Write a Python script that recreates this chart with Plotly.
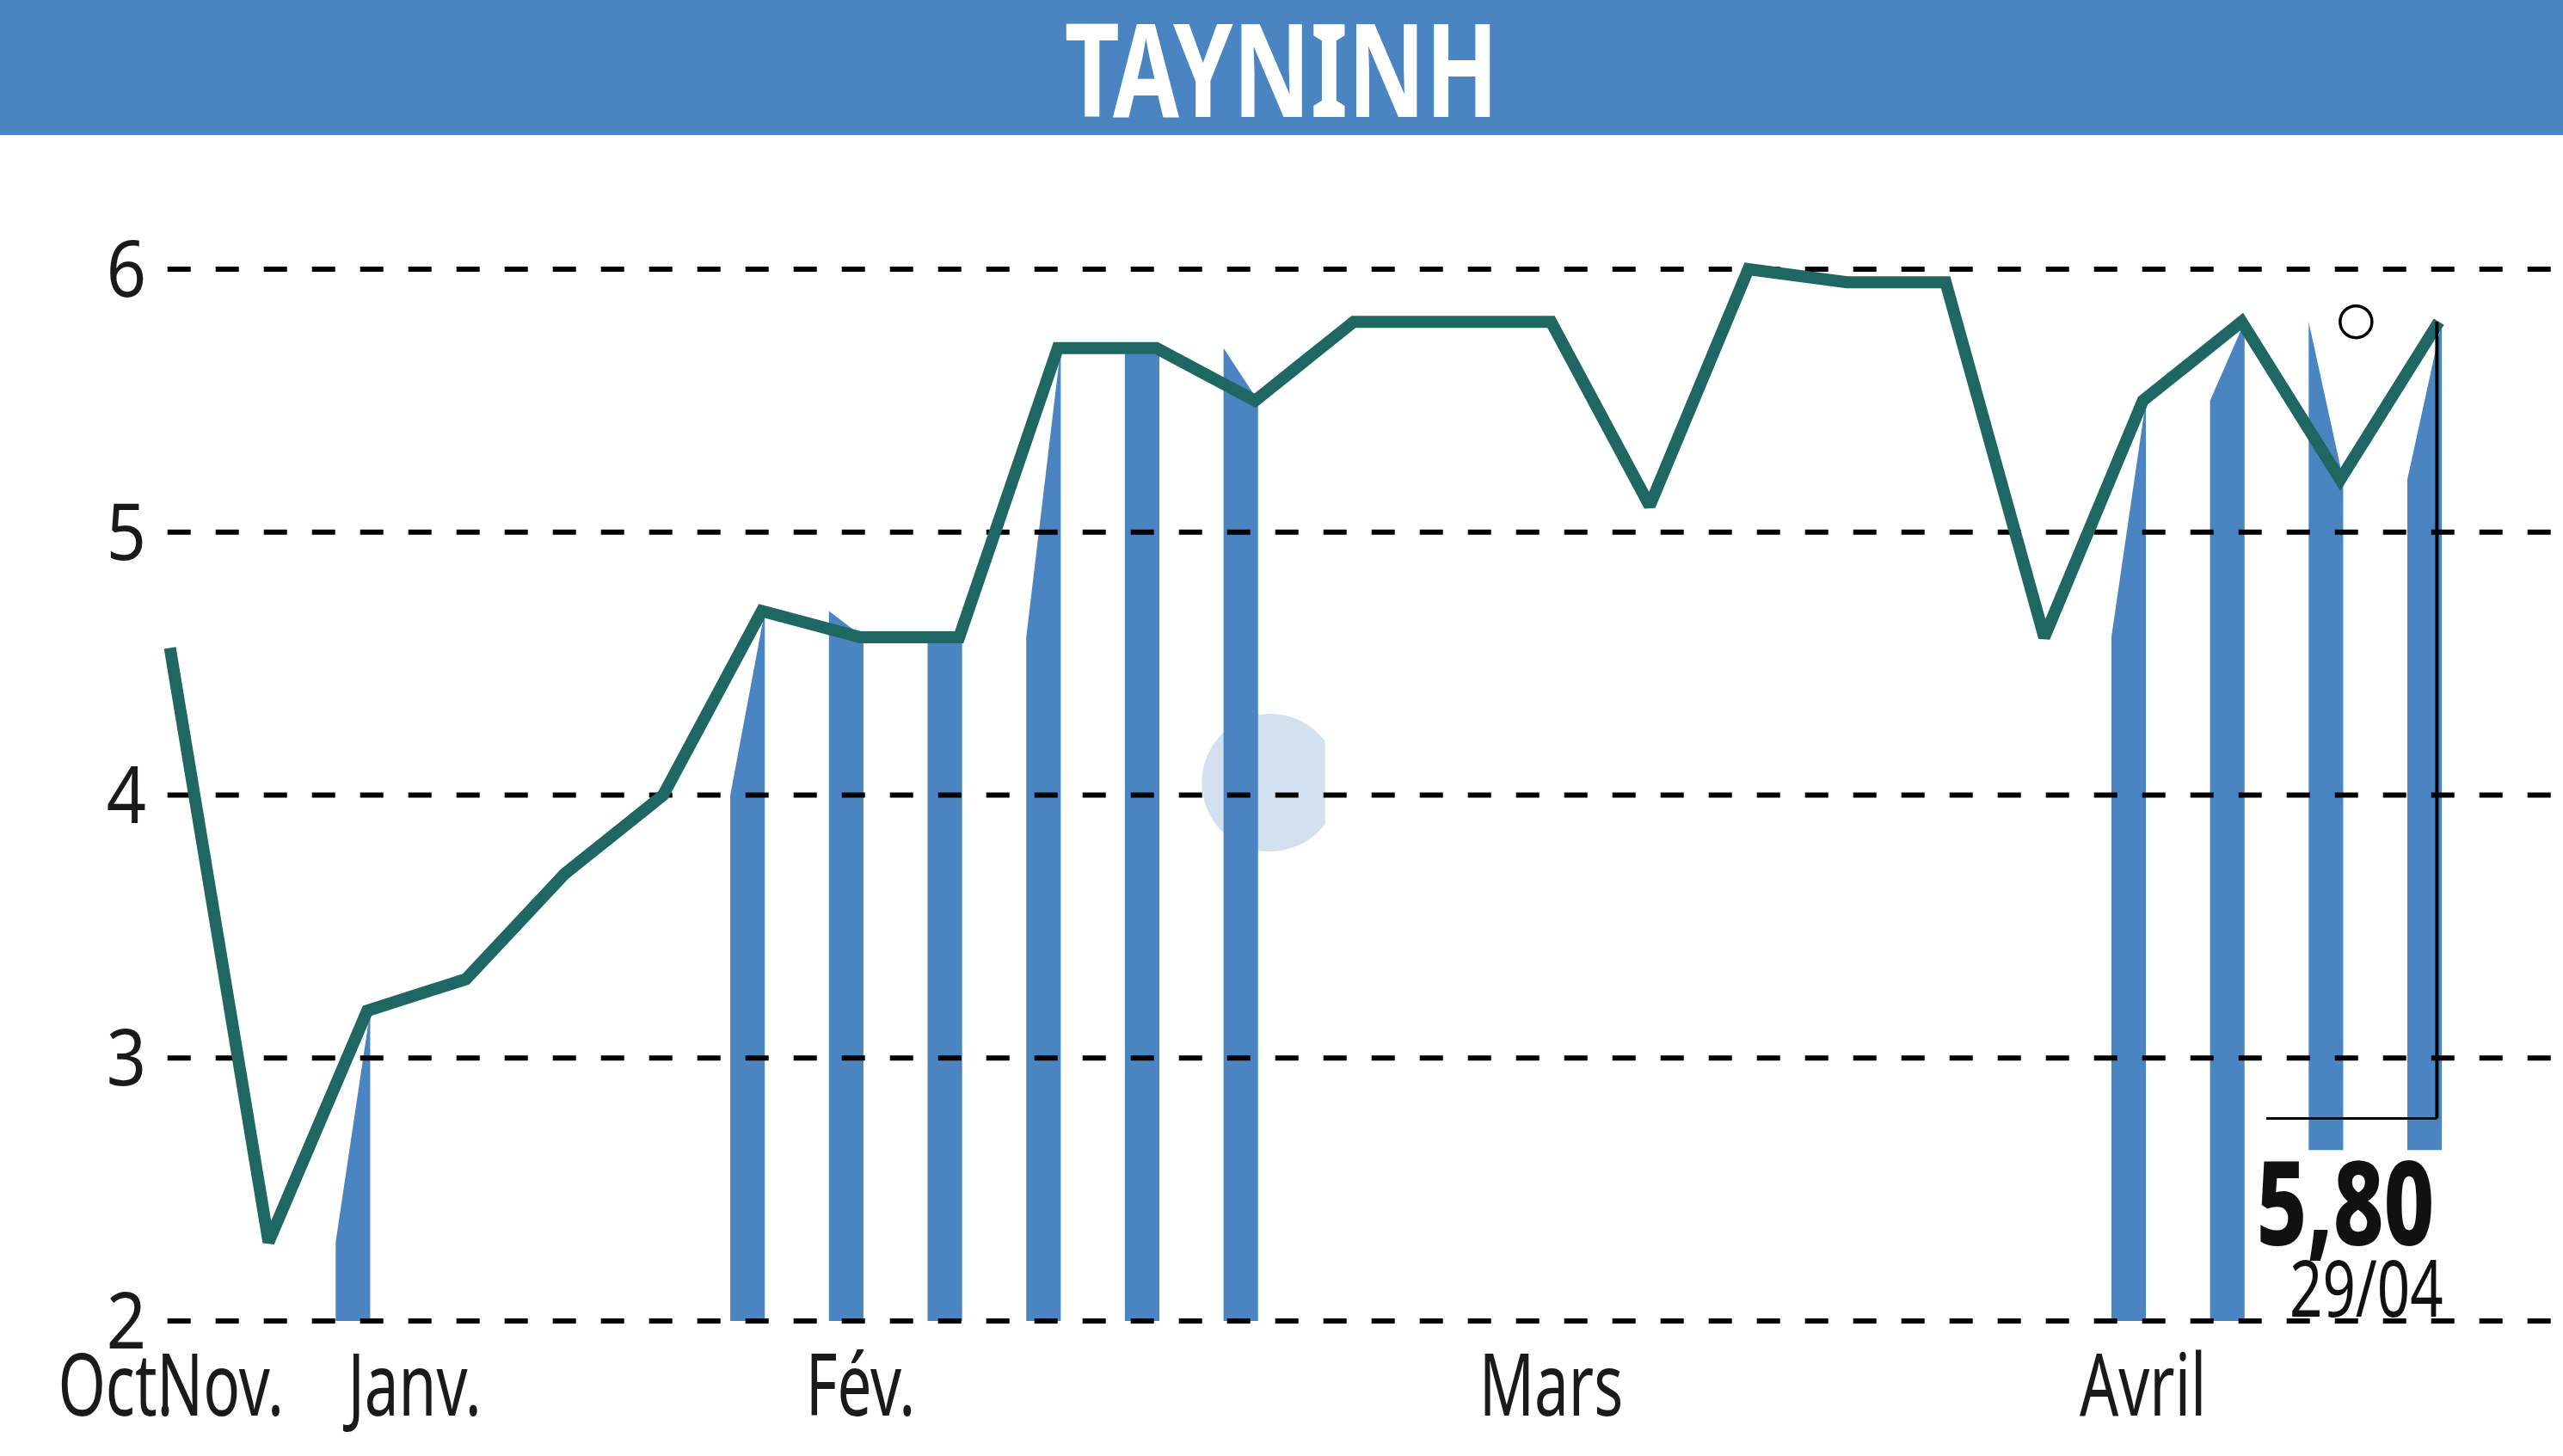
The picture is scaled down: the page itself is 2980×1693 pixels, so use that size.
import plotly.graph_objects as go

# ---------------- data ----------------
prices = [4.56, 2.30, 3.18, 3.30, 3.70, 4.00, 4.70, 4.60, 4.60, 5.70, 5.70, 5.50,
          5.80, 5.80, 5.80, 5.10, 6.00, 5.95, 5.95, 4.60, 5.50, 5.80, 5.20, 5.80]
bar_idx = [2, 6, 7, 8, 9, 10, 11, 20, 21, 22, 23]
bar_base = [2, 2, 2, 2, 2, 2, 2, 2, 2, 2.65, 2.65]
month_pos = [-0.55, 0.51, 2.48, 7.0, 14.0, 20.0]
month_labels = ['Oct.', 'Nov.', 'Janv.', 'Fév.', 'Mars', 'Avril']
y_ticks = [2, 3, 4, 5, 6]
title = 'TAYNINH'
last_label = '5,80'
last_date = '29/04'

# ---------------- style ----------------
W, H = 2980, 1693
BLUE = '#4a85c2'
TEAL = '#1f6762'
FONT = "'Noto Sans', sans-serif"


def mkfont(size, color='#1a1a1a', weight=None):
    d = dict(family=FONT, size=size, color=color)
    if weight is not None:
        d['weight'] = weight
    return d


x = list(range(len(prices)))
n = len(prices)
last = n - 1

# axis geometry (pixels)
x0_px, dx_px = 197.6, 114.70
y6_px, y2_px = 313.0, 1536.0
plot_bottom = 1545
ppu = (y2_px - y6_px) / 4.0
xr = [-x0_px / dx_px, (W - x0_px) / dx_px]
yr = [2 - (plot_bottom - y2_px) / ppu, 6 + y6_px / ppu]

# bar polygons (top runs from previous value to current value)
bw, boff = 0.35, 0.03
bx, by = [], []
for i, b in zip(bar_idx, bar_base):
    l, r = i + boff - bw, i + boff
    prev = prices[i - 1] if i > 0 else prices[i]
    bx += [l, l, r, r, l, None]
    by += [b, prev, prices[i], b, b, None]

fig = go.Figure()
fig.add_trace(go.Scatter(x=bx, y=by, mode='lines', fill='toself', fillcolor=BLUE,
                         line=dict(width=0, color=BLUE), hoverinfo='skip', showlegend=False))

# dashed grid lines
gx, gy = [], []
for t in y_ticks:
    gx += [-0.025, xr[1] + 1, None]
    gy += [t, t, None]
fig.add_trace(go.Scatter(x=gx, y=gy, mode='lines',
                         line=dict(color='black', width=6, dash='27px,29px'),
                         hoverinfo='skip', showlegend=False))

# price line
fig.add_trace(go.Scatter(x=x, y=prices, mode='lines',
                         line=dict(color=TEAL, width=14), showlegend=False))

# high marker
hi = max(prices[-3:])
fig.add_trace(go.Scatter(x=[last - 0.84], y=[hi], mode='markers',
                         marker=dict(symbol='circle-open', size=37, color='black',
                                     line=dict(width=3.5, color='black')),
                         showlegend=False))

shapes = [
    # faint watermark disc
    dict(type='circle', xref='x', yref='y', x0=10.46, x1=11.85, y0=3.786, y1=4.309,
         fillcolor='#d2e0f0', line=dict(width=0), layer='below'),
    dict(type='rect', xref='x', yref='y', x0=11.71, x1=11.9, y0=3.7, y1=4.4,
         fillcolor='white', line=dict(width=0), layer='below'),
    # title band
    dict(type='rect', xref='paper', yref='paper', x0=-0.01, x1=1.01,
         y0=1 - 157 / plot_bottom, y1=1.02, fillcolor=BLUE, line=dict(width=0), layer='above'),
    # last value markers
    dict(type='line', xref='x', yref='y', x0=last - 0.02, x1=last - 0.02, y0=2.77, y1=prices[-1],
         line=dict(color='black', width=4), layer='above'),
    dict(type='line', xref='x', yref='y', x0=last - 1.75, x1=last - 0.02, y0=2.77, y1=2.77,
         line=dict(color='black', width=3), layer='above'),
]

annotations = [
    dict(text=title, xref='paper', yref='paper', x=0.5, y=1 - 78 / plot_bottom,
         xanchor='center', yanchor='middle', showarrow=False,
         font=mkfont(150, 'white', 700)),
    dict(text=last_label, xref='x', yref='y', x=last - 0.948, y=2.458, xanchor='center',
         yanchor='middle', showarrow=False,
         font=mkfont(136, '#111111', 800)),
    dict(text=last_date, xref='x', yref='y', x=last - 0.738, y=2.131, xanchor='center',
         yanchor='middle', showarrow=False,
         font=mkfont(92, '#111111')),
]

fig.update_layout(
    width=W, height=H, margin=dict(l=0, r=0, t=0, b=H - plot_bottom),
    paper_bgcolor='white', plot_bgcolor='white',
    shapes=shapes, annotations=annotations, showlegend=False,
    xaxis=dict(range=xr, showgrid=False, zeroline=False, showline=False,
               tickmode='array', tickvals=month_pos, ticktext=month_labels, ticks='',
               tickangle=0, tickfont=mkfont(100)),
    yaxis=dict(range=yr, showgrid=False, zeroline=False, showline=False,
               anchor='free', position=170 / W, side='left',
               tickmode='array', tickvals=y_ticks, ticktext=[str(t) for t in y_ticks], ticks='',
               tickfont=mkfont(92)),
)

# condensed look: compress glyphs horizontally (text stays real SVG text)
post = """
document.body.style.margin='0';document.body.style.overflow='hidden';
(function(){
  var F={'TAYNINH':0.74,'5,80':0.75,'29/04':0.73};
  function squeeze(){
    try{
      var gd=document.querySelector('.js-plotly-plot'); if(!gd) return;
      gd.querySelectorAll('text').forEach(function(t){
        var s=(t.textContent||'').trim(); var f=null;
        if(F[s]) f=F[s];
        else if(t.closest('.xtick')) f=0.71;
        else if(t.closest('.ytick')) f=0.88;
        if(!f) return;
        t.removeAttribute('textLength');
        var L=t.getComputedTextLength();
        if(L>0){t.setAttribute('textLength',(L*f).toFixed(2));t.setAttribute('lengthAdjust','spacingAndGlyphs');}
      });
    }catch(e){}
  }
  squeeze();
  var gd=document.querySelector('.js-plotly-plot');
  if(gd && gd.on){gd.on('plotly_afterplot',squeeze);}
  setTimeout(squeeze,300);
})();
"""

fig.write_html('out.html', config={'displayModeBar': False}, post_script=post)
